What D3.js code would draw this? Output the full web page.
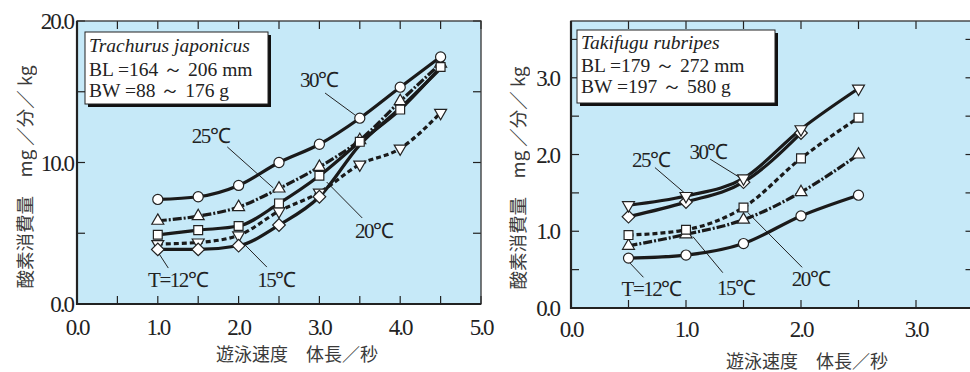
<!DOCTYPE html>
<html>
<head>
<meta charset="utf-8">
<script src="https://cdn.jsdelivr.net/npm/d3@7"></script>
<style>
  body { margin: 0; background: #fff; }
  svg { display: block; }
  .num { font-family: "Liberation Serif", "Times New Roman", serif; fill: #222; }
  .jp { font-family: "Noto Sans CJK JP", sans-serif; fill: #3a3a3a; }
</style>
</head>
<body>
<svg id="chart" width="970" height="372"></svg>
<script>
// ---- left panel: Trachurus japonicus ----
const speedL = [1.0, 1.5, 2.0, 2.5, 3.0, 3.5, 4.0, 4.5];
const jp30 = [7.39, 7.58, 8.38, 10.0, 11.29, 13.13, 15.32, 17.46];
const jp25 = [5.88, 6.21, 6.85, 8.16, 9.69, 11.58, 14.33, 16.99];
const jp20 = [4.89, 5.22, 5.51, 7.11, 9.06, 11.46, 13.74, 16.75];
const jp15 = [4.24, 4.35, 4.85, 6.56, 7.88, 9.86, 10.99, 13.51];
const jp12 = [3.86, 3.86, 4.12, 5.58, 7.58];
const jp12Tail = [11.25, 13.85, 16.65];   // line continues past 3.0 without markers
const xTicksL = [0, 1, 2, 3, 4, 5];
const yTicksL = [0, 10, 20];

// ---- right panel: Takifugu rubripes ----
const speedR = [0.5, 1.0, 1.5, 2.0, 2.5];
const rb30 = [1.34, 1.46, 1.69, 2.33, 2.86];
const rb25 = [1.19, 1.38, 1.64, 2.28];
const rb20 = [0.95, 1.02, 1.31, 1.95, 2.48];
const rb15 = [0.81, 0.96, 1.15, 1.51, 2.00];
const rb12 = [0.65, 0.69, 0.84, 1.20, 1.47];
const xTicksR = [0, 1, 2, 3];
const yTicksR = [0, 1, 2, 3];

const yLabel = "酸素消費量　mg ／分／ kg";
const xLabel = "遊泳速度　体長／秒";

const svg = d3.select("#chart");
const bg = "#c6e9f8";

function zip(xs, ys) { return ys.map((y, i) => [xs[i], y]); }

function drawPanel(p) {
  const x = d3.scaleLinear().domain(p.xDomain).range([p.left, p.left + p.width]);
  const y = d3.scaleLinear().domain(p.yDomain).range([p.top + p.height, p.top]);
  const g = svg.append("g");

  g.append("rect")
    .attr("x", p.left).attr("y", p.top)
    .attr("width", p.width).attr("height", p.height)
    .attr("fill", bg);

  // inward ticks on all four sides
  const minorX = d3.range(p.xDomain[0], p.xDomain[1] + 0.001, 0.5);
  const minorY = d3.range(p.yDomain[0], p.yDomain[1] + 0.001, p.yMinor);
  const tk = 8;
  g.selectAll(".tb").data(minorX).join("line")
    .attr("x1", d => x(d)).attr("x2", d => x(d))
    .attr("y1", p.top + p.height).attr("y2", p.top + p.height - tk)
    .attr("stroke", "#222").attr("stroke-width", 1.2);
  g.selectAll(".tt").data(minorX).join("line")
    .attr("x1", d => x(d)).attr("x2", d => x(d))
    .attr("y1", p.top).attr("y2", p.top + tk)
    .attr("stroke", "#222").attr("stroke-width", 1.2);
  g.selectAll(".tl").data(minorY).join("line")
    .attr("x1", p.left).attr("x2", p.left + tk)
    .attr("y1", d => y(d)).attr("y2", d => y(d))
    .attr("stroke", "#222").attr("stroke-width", 1.2);
  g.selectAll(".tr").data(minorY).join("line")
    .attr("x1", p.left + p.width).attr("x2", p.left + p.width - tk)
    .attr("y1", d => y(d)).attr("y2", d => y(d))
    .attr("stroke", "#222").attr("stroke-width", 1.2);

  // frame
  g.append("rect")
    .attr("x", p.left).attr("y", p.top)
    .attr("width", p.width).attr("height", p.height)
    .attr("fill", "none").attr("stroke", "#333").attr("stroke-width", 1.3);
  g.append("path")
    .attr("d", `M${p.left},${p.top}V${p.top + p.height}H${p.left + p.width}`)
    .attr("fill", "none").attr("stroke", "#222").attr("stroke-width", 2.2);

  // tick labels
  g.selectAll(".xl").data(p.xTicks).join("text")
    .attr("class", "num")
    .attr("x", d => x(d)).attr("y", p.top + p.height + p.xTickGap)
    .attr("text-anchor", "middle")
    .attr("font-size", 23).attr("letter-spacing", -2)
    .text(d => d3.format(".1f")(d));
  g.selectAll(".yl").data(p.yTicks).join("text")
    .attr("class", "num")
    .attr("x", p.left - p.yLabelGap).attr("y", d => y(d) + 8)
    .attr("text-anchor", "end")
    .attr("font-size", 23).attr("letter-spacing", -2)
    .text(d => d3.format(".1f")(d));

  // axis titles
  g.append("text").attr("class", "jp")
    .attr("transform", `translate(${p.left - p.yTitleGap},${p.yTitleY}) rotate(-90)`)
    .attr("text-anchor", "middle").attr("dominant-baseline", "central")
    .attr("font-size", 18.5).attr("opacity", 0.99)
    .text(yLabel);
  g.append("text").attr("class", "jp")
    .attr("x", p.xTitleX).attr("y", p.xTitleY)
    .attr("text-anchor", "middle").attr("font-size", 18)
    .text(xLabel);

  // species box
  const b = p.box;
  g.append("rect").attr("x", b.x + 3).attr("y", b.y + 3)
    .attr("width", b.w).attr("height", b.h).attr("fill", "#111");
  g.append("rect").attr("x", b.x).attr("y", b.y)
    .attr("width", b.w).attr("height", b.h)
    .attr("fill", "#fff").attr("stroke", "#222").attr("stroke-width", 1);
  b.lines.forEach((t, i) => {
    g.append("text").attr("class", "num")
      .attr("x", b.x + 4).attr("y", b.y + b.base[i])
      .attr("font-size", 19.5).attr("letter-spacing", 0)
      .attr("font-style", i === 0 ? "italic" : "normal")
      .text(t);
  });

  // leader lines and labels
  p.notes.forEach(n => {
    g.append("line")
      .attr("x1", x(n.line[0])).attr("y1", y(n.line[1]))
      .attr("x2", x(n.line[2])).attr("y2", y(n.line[3]))
      .attr("stroke", "#222").attr("stroke-width", 1);
    g.append("text").attr("class", "num")
      .attr("x", x(n.at[0])).attr("y", y(n.at[1]))
      .attr("font-size", 21).attr("letter-spacing", -1.5)
      .text(n.text);
  });

  const line = d3.line().x(d => x(d[0])).y(d => y(d[1])).curve(d3.curveMonotoneX);

  p.series.forEach(s => {
    g.append("path")
      .datum(s.pts.concat(s.tail || []))
      .attr("d", line)
      .attr("fill", "none").attr("stroke", "#1a1a1a")
      .attr("stroke-width", 3.2)
      .attr("stroke-dasharray", s.dash || null);
  });

  const shapes = {
    circle: d3.symbol(d3.symbolCircle, 80),
    up: d3.symbol(d3.symbolTriangle, 62),
    down: d3.symbol(d3.symbolTriangle, 62),
    square: d3.symbol(d3.symbolSquare, 78),
    diamond: d3.symbol(d3.symbolSquare, 80)
  };
  const rot = { down: 180, diamond: 45 };
  p.series.forEach(s => {
    g.selectAll(null).data(s.pts).join("path")
      .attr("d", shapes[s.shape])
      .attr("transform", d => `translate(${x(d[0])},${y(d[1])}) rotate(${rot[s.shape] || 0})`)
      .attr("fill", "#fff").attr("stroke", "#222").attr("stroke-width", 1.2);
  });
}

const dashDot = "9,2,2,2";
const shortDash = "5,3";

drawPanel({
  left: 77, top: 21, width: 404, height: 283,
  xDomain: [0, 5], yDomain: [0, 20], yMinor: 5,
  xTicks: xTicksL, yTicks: yTicksL,
  xTickGap: 31, yLabelGap: 4, yTitleGap: 53, yTitleY: 177,
  xTitleX: 297, xTitleY: 361,
  box: { x: 85, y: 32, w: 183, h: 72, base: [20, 44, 65],
         lines: ["Trachurus japonicus", "BL =164 ～ 206 mm", "BW =88 ～ 176 g"] },
  series: [
    { pts: zip(speedL, jp15), shape: "down", dash: shortDash },
    { pts: zip(speedL, jp12), tail: zip(speedL.slice(5), jp12Tail), shape: "diamond" },
    { pts: zip(speedL, jp25), shape: "up", dash: dashDot },
    { pts: zip(speedL, jp20), shape: "square" },
    { pts: zip(speedL, jp30), shape: "circle" }
  ],
  notes: [
    { text: "30℃", at: [2.76, 15.34], line: [3.07, 14.91, 3.44, 13.36] },
    { text: "25℃", at: [1.42, 11.38], line: [1.86, 11.1, 2.43, 8.2] },
    { text: "20℃", at: [3.44, 4.66], line: [3.09, 8.62, 3.53, 6.08] },
    { text: "15℃", at: [2.23, 1.2], line: [2.08, 4.17, 2.35, 2.61] },
    { text: "T=12℃", at: [0.88, 1.2], line: [1.01, 3.6, 1.13, 2.54] }
  ]
});

drawPanel({
  left: 571, top: 21, width: 402.5, height: 287,
  xDomain: [0, 3.5], yDomain: [0, 3.74], yMinor: 0.5,
  xTicks: xTicksR, yTicks: yTicksR,
  xTickGap: 29, yLabelGap: 12, yTitleGap: 54, yTitleY: 178,
  xTitleX: 807, xTitleY: 368,
  box: { x: 577, y: 30, w: 198, h: 73, base: [19, 42, 63],
         lines: ["Takifugu rubripes", "BL =179 ～ 272 mm", "BW =197 ～ 580 g"] },
  series: [
    { pts: zip(speedR, rb12), shape: "circle" },
    { pts: zip(speedR, rb15), shape: "up", dash: dashDot },
    { pts: zip(speedR, rb20), shape: "square", dash: shortDash },
    { pts: zip(speedR, rb25), shape: "diamond" },
    { pts: zip(speedR, rb30), shape: "down" }
  ],
  notes: [
    { text: "25℃", at: [0.53, 1.84], line: [0.73, 1.83, 1.01, 1.47] },
    { text: "30℃", at: [1.03, 1.94], line: [1.21, 1.94, 1.50, 1.67] },
    { text: "20℃", at: [1.92, 0.29], line: [2.01, 0.53, 1.54, 1.24] },
    { text: "15℃", at: [1.27, 0.17], line: [1.32, 0.46, 1.06, 0.93] },
    { text: "T=12℃", at: [0.44, 0.16], line: [0.63, 0.40, 0.51, 0.59] }
  ]
});
</script>
</body>
</html>
